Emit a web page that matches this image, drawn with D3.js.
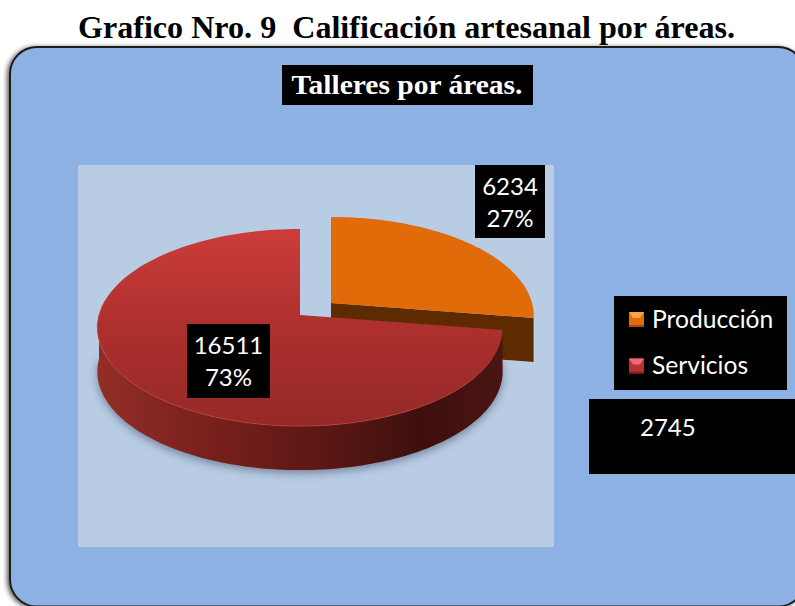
<!DOCTYPE html>
<html><head><meta charset="utf-8">
<script src="https://cdn.jsdelivr.net/npm/d3@7"></script>
<style>html,body{margin:0;padding:0;background:#fff;overflow:hidden}svg{display:block}</style></head>
<body><div id="c"></div>
<script>
const chartTitle = "Grafico Nro. 9  Calificación artesanal por áreas.";
const innerTitle = "Talleres por áreas.";
const categories = ["Producción", "Servicios"];
const values = [6234, 16511];
const extraValue = "2745";

const W = 795, H = 606;
const svg = d3.select("#c").append("svg").attr("width", W).attr("height", H);
const defs = svg.append("defs");

function linGrad(id, x1, y1, x2, y2, stops) {
  const g = defs.append("linearGradient").attr("id", id).attr("gradientUnits", "userSpaceOnUse")
    .attr("x1", x1).attr("y1", y1).attr("x2", x2).attr("y2", y2);
  stops.forEach(s => g.append("stop").attr("offset", s[0]).attr("stop-color", s[1]));
}
linGrad("redTop", 0, 229, 0, 426, [[0, "#cc3c3a"], [0.5, "#ad302e"], [1, "#952927"]]);
linGrad("redWall", 96, 0, 502, 0, [[0, "#932e26"], [0.3, "#771f1c"], [0.55, "#5c1815"], [0.8, "#3e0f0d"], [1, "#4a1512"]]);
defs.append("filter").attr("id", "blur").attr("x", "-20%").attr("y", "-20%").attr("width", "140%").attr("height", "140%")
  .append("feGaussianBlur").attr("stdDeviation", 4);
defs.append("filter").attr("id", "panelShadow").attr("x", "-5%").attr("y", "-5%").attr("width", "110%").attr("height", "110%")
  .append("feDropShadow").attr("dx", -2).attr("dy", 1).attr("stdDeviation", 2.5).attr("flood-color", "#000").attr("flood-opacity", 0.65);

// panel
svg.append("rect").attr("x", 10).attr("y", 47).attr("width", 795).attr("height", 559.5).attr("rx", 27)
  .attr("fill", "#8db1e2").attr("stroke", "#1c1c1c").attr("stroke-width", 2).attr("filter", "url(#panelShadow)");
svg.append("rect").attr("x", 78).attr("y", 165).attr("width", 476).attr("height", 382).attr("fill", "#b8cce4");

// title
svg.append("text").attr("x", 406.5).attr("y", 38).attr("text-anchor", "middle")
  .attr("font-family", "Liberation Serif").attr("font-weight", "bold").attr("font-size", 30.5)
  .attr("textLength", 657).attr("lengthAdjust", "spacingAndGlyphs")
  .style("white-space", "pre").text(chartTitle);
svg.append("rect").attr("x", 282).attr("y", 65).attr("width", 251).attr("height", 40).attr("fill", "#000");
svg.append("text").attr("x", 407).attr("y", 94).attr("text-anchor", "middle").attr("fill", "#fff")
  .attr("font-family", "Liberation Serif").attr("font-weight", "bold").attr("font-size", 27)
  .attr("textLength", 231).attr("lengthAdjust", "spacingAndGlyphs").text(innerTitle);

// pie — perspective projection of a circle
const pie = d3.pie().sort(null).value(d => d);
const arcs = pie(values);
const total = d3.sum(values);
const rx = 201, ry = 97, k = 0.127, depth = 44;
const project = (a, c) => {
  const u = Math.sin(a), v = Math.cos(a), w = 1 + k * v;
  return [c[0] + rx * u / w, c[1] - ry * v / w];
};
const samples = (a0, a1) => d3.range(0, 121).map(i => a0 + (a1 - a0) * i / 120);
const line = d3.line();
const centers = [[331, 303], [300, 315]];
const down = p => [p[0], p[1] + depth];

function topPath(d, c) {
  return line([c, ...samples(d.startAngle, d.endAngle).map(a => project(a, c))]) + "Z";
}
function outerWall(a0, a1, c) {
  const pts = samples(a0, a1).map(a => project(a, c));
  return line([...pts, ...pts.slice().reverse().map(down)]) + "Z";
}

// shadow below the big slice
const rs = arcs[1];
svg.append("path")
  .attr("d", line(samples(Math.PI * 0.5, Math.PI * 1.5).map(a => down(project(a, centers[1]))).map(p => [p[0], p[1] + 3])) + "Z")
  .attr("fill", "#3a4a60").attr("opacity", 0.55).attr("filter", "url(#blur)");

// Producción
const op = arcs[0], oc = centers[0];
const tip = project(op.endAngle, oc);
svg.append("path").attr("d", line([oc, tip, down(tip), down(oc)]) + "Z").attr("fill", "#5e2b00");
svg.append("path").attr("d", topPath(op, oc)).attr("fill", "#e06b08");

// Servicios
const rc = centers[1];
svg.append("path").attr("d", outerWall(rs.startAngle, Math.PI * 1.5, rc)).attr("fill", "url(#redWall)");
svg.append("path").attr("d", topPath(rs, rc)).attr("fill", "url(#redTop)");
svg.append("path").attr("d", line(samples(Math.PI * 0.7, Math.PI * 1.55).map(a => project(a, rc))))
  .attr("fill", "none").attr("stroke", "#cf4a40").attr("stroke-width", 1).attr("opacity", 0.6);

// data labels
const fontSans = "Lato";
function labelBox(x, y, w, h, lines) {
  svg.append("rect").attr("x", x).attr("y", y).attr("width", w).attr("height", h).attr("fill", "#000");
  lines.forEach((t, i) => svg.append("text").attr("x", x + w / 2).attr("y", y + 29.5 + i * 32.5)
    .attr("text-anchor", "middle").attr("fill", "#fff").attr("font-family", fontSans).attr("font-size", 24).text(t));
}
const pct = v => d3.format(".0%")(v / total);
labelBox(475, 165, 70, 73, [String(values[0]), pct(values[0])]);
labelBox(187, 324, 83, 74, [String(values[1]), pct(values[1])]);

// legend
svg.append("rect").attr("x", 614).attr("y", 296).attr("width", 173).attr("height", 94).attr("fill", "#000");
const legendColors = [["#e06b08", "#f6a648", "#a84e06"], ["#b8322f", "#ef6a72", "#7c2320"]];
categories.forEach((c, i) => {
  const y = 312 + i * 46.5, x = 629, s = 15, col = legendColors[i];
  svg.append("rect").attr("x", x).attr("y", y).attr("width", s).attr("height", s).attr("fill", col[0]);
  svg.append("path").attr("d", line([[x, y], [x + s, y], [x + s - 4, y + 6], [x + 4, y + 6]]) + "Z").attr("fill", col[1]);
  svg.append("rect").attr("x", x).attr("y", y + s - 2).attr("width", s).attr("height", 2).attr("fill", col[2]);
  svg.append("text").attr("x", 652).attr("y", 328 + i * 46).attr("fill", "#fff")
    .attr("font-family", fontSans).attr("font-size", 24.6).text(c);
});

// extra box
svg.append("rect").attr("x", 589).attr("y", 399).attr("width", 206).attr("height", 75).attr("fill", "#000");
svg.append("text").attr("x", 640).attr("y", 436).attr("fill", "#fff")
  .attr("font-family", fontSans).attr("font-size", 24).text(extraValue);
</script></body></html>
